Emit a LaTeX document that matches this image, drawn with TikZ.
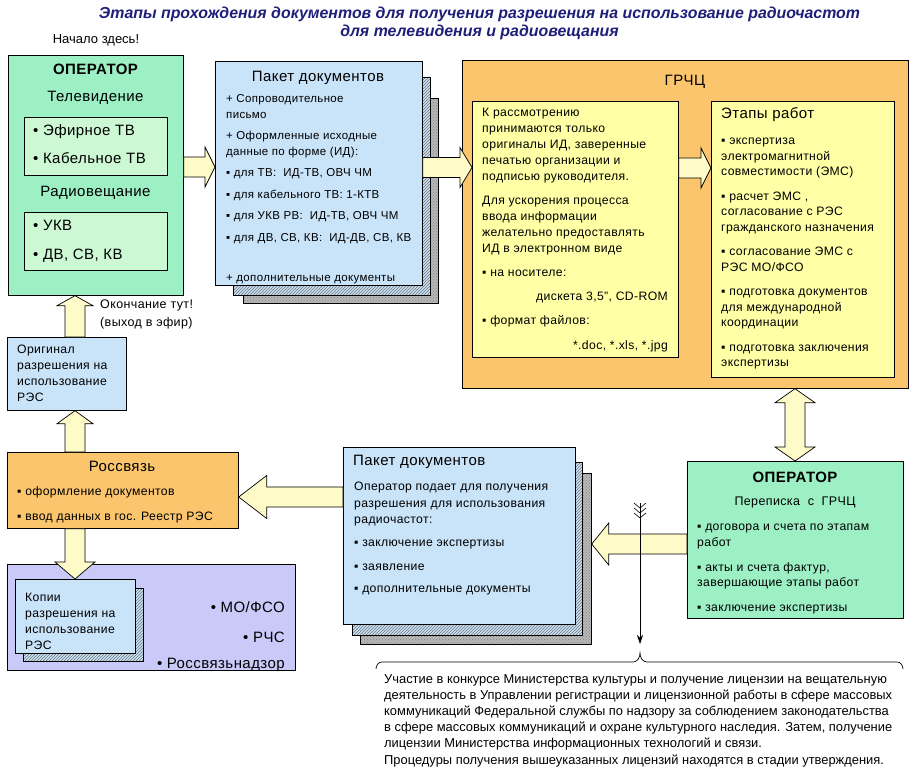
\documentclass[tikz,border=0pt]{standalone}
\usepackage{fontspec}
\setmainfont[LetterSpace=3]{Liberation Sans}
\newfontfamily\plainf{Liberation Sans}
\usetikzlibrary{calc,patterns,arrows.meta}
\definecolor{opgreen}{HTML}{9CF0C4}
\definecolor{ingreen}{HTML}{CCF8D4}
\definecolor{pblue}{HTML}{C9E3F9}
\definecolor{orangeC}{HTML}{FBC56E}
\definecolor{yellowC}{HTML}{FFFFA6}
\definecolor{arrowC}{HTML}{FFFBC8}
\definecolor{purpleC}{HTML}{CACAF9}
\definecolor{titleC}{HTML}{1F1F7A}
\newcommand\tstrut{\rule{0pt}{0.85em}}
\newcommand\fsz[2]{\fontsize{#1}{#2}\selectfont}
% horizontal block arrow: from, to, signed head length, head half width
\newcommand\harrow[4]{%
  \path[barrow] let \p1=(#1), \p2=(#2) in
   (\x1,{\y1+10pt}) -- ({\x2-(#3pt)},{\y1+10pt}) -- ({\x2-(#3pt)},{\y1+#4pt}) -- (\x2,\y1)
   -- ({\x2-(#3pt)},{\y1-#4pt}) -- ({\x2-(#3pt)},{\y1-10pt}) -- (\x1,{\y1-10pt}) -- cycle;}
% vertical block arrow: from, to, signed head length (positive = pointing down), head half width
\newcommand\varrow[4]{%
  \path[barrow] let \p1=(#1), \p2=(#2) in
   ({\x1-10pt},\y1) -- ({\x1-10pt},{\y2+(#3pt)}) -- ({\x1-#4pt},{\y2+(#3pt)}) -- (\x1,\y2)
   -- ({\x1+#4pt},{\y2+(#3pt)}) -- ({\x1+10pt},{\y2+(#3pt)}) -- ({\x1+10pt},\y1) -- cycle;}
% vertical double block arrow: top, bottom, head length, head half width
\newcommand\vdarrow[4]{%
  \path[barrow] let \p1=(#1), \p2=(#2) in
   (\x1,\y1) -- ({\x1+#4pt},{\y1-#3pt}) -- ({\x1+10pt},{\y1-#3pt}) -- ({\x1+10pt},{\y2+#3pt})
   -- ({\x1+#4pt},{\y2+#3pt}) -- (\x1,\y2) -- ({\x1-#4pt},{\y2+#3pt}) -- ({\x1-10pt},{\y2+#3pt})
   -- ({\x1-10pt},{\y1-#3pt}) -- ({\x1-#4pt},{\y1-#3pt}) -- cycle;}
\begin{document}
\begin{tikzpicture}[x=1pt,y=-1pt,
  box/.style={draw=black, line width=0.7pt, inner sep=0pt, anchor=north west},
  pagehatch/.style={box, preaction={fill=pblue}, pattern=north east lines, pattern color=black!55},
  pagegray/.style={box, preaction={fill=black!28}, pattern=crosshatch dots, pattern color=black!50},
  txt/.style={inner sep=0pt, anchor=north west, align=left},
  ctxt/.style={inner sep=0pt, anchor=center},
  barrow/.style={draw=black, line width=0.7pt, fill=arrowC}]
\fill[white] (0,0) rectangle (916,773);
\useasboundingbox (0,0) rectangle (916,773);

% title
\node[ctxt, font=\plainf\fsz{15.9}{18}\bfseries\itshape, text=titleC] (t1) at (479.5,14)
  {Этапы прохождения документов для получения разрешения на использование радиочастот};
\node[ctxt, font=\plainf\fsz{15.9}{18}\bfseries\itshape, text=titleC] (t2) at (479.5,32)
  {для телевидения и радиовещания};
\node[ctxt, font=\plainf\fsz{13}{14}] (start) at (96,40) {Начало здесь!};

% operator (top left)
\node[box, fill=opgreen, minimum width=175, minimum height=240] (op) at (8,55) {};
\node[ctxt, font=\fsz{15}{18}\bfseries] (opt) at (95.5,69) {ОПЕРАТОР};
\node[ctxt, font=\fsz{15}{18}] (tvt) at (95.5,98) {Телевидение};
\node[box, fill=ingreen, minimum width=143, minimum height=58] (tvb) at (24,117) {};
\node[txt, font=\fsz{15}{28}] (tvl) at (33,122.8) {\tstrut• Эфирное ТВ\\• Кабельное ТВ};
\node[ctxt, font=\fsz{15}{18}] (rvt) at (95.5,193) {Радиовещание};
\node[box, fill=ingreen, minimum width=143, minimum height=58] (rvb) at (24,212) {};
\node[txt, font=\fsz{15}{29}] (rvl) at (33,217.8) {\tstrut• УКВ\\• ДВ, СВ, КВ};

% packet 1
\node[pagegray, minimum width=195, minimum height=205] (pk1c) at (243,98) {};
\node[pagehatch, minimum width=197, minimum height=218] (pk1b) at (233,77) {};
\node[box, fill=pblue, minimum width=207, minimum height=224] (pk1) at (215,61) {};
\node[ctxt, font=\fsz{15}{18}] (pk1t) at (318,78) {Пакет документов};
\node[txt, font=\fsz{11.5}{16}] (pk1l) at (226,92.7) {\tstrut+ Сопроводительное\\письмо\\[5pt]%
+ Оформленные исходные\\данные по форме (ИД):\\[5pt]%
▪ для ТВ:\ \ ИД-ТВ, ОВЧ ЧМ\\[6pt]▪ для кабельного ТВ: 1-КТВ\\[5pt]%
▪ для УКВ РВ:\ \ ИД-ТВ, ОВЧ ЧМ\\[6pt]▪ для ДВ, СВ, КВ:\ \ ИД-ДВ, СВ, КВ\\[24pt]%
+ дополнительные документы};

% GRChC
\node[box, fill=orangeC, minimum width=446, minimum height=328] (grc) at (462,60) {};
\node[ctxt, font=\fsz{15}{18}] (grct) at (685,82) {ГРЧЦ};
\node[box, fill=yellowC, minimum width=206, minimum height=256] (grL) at (472,101) {};
\node[txt, font=\fsz{12.2}{16}] (grLl) at (482,106.4) {\tstrut К рассмотрению\\принимаются только\\%
оригиналы ИД, заверенные\\печатью организации и\\подписью руководителя.\\[8pt]%
Для ускорения процесса\\ввода информации\\желательно предоставлять\\ИД в электронном виде\\[8pt]%
▪ на носителе:\\[32pt]▪ формат файлов:};
\node[inner sep=0pt, anchor=east, font=\fsz{12.2}{16}] (disk) at (668,297) {дискета 3,5", CD-ROM};
\node[inner sep=0pt, anchor=east, font=\fsz{12.2}{16}] (fmt) at (668,346) {*.doc, *.xls, *.jpg};
\node[box, fill=yellowC, minimum width=183, minimum height=276] (grR) at (711,101) {};
\node[inner sep=0pt, anchor=west, font=\fsz{15}{18}] (grRt) at (721,115) {Этапы работ};
\node[txt, font=\fsz{12.2}{15.5}] (grRl) at (721,134.4) {\tstrut▪ экспертиза\\электромагнитной\\%
совместимости (ЭМС)\\[9pt]▪ расчет ЭМС ,\\согласование с РЭС\\гражданского назначения\\[9pt]%
▪ согласование ЭМС с\\РЭС МО/ФСО\\[9pt]▪ подготовка документов\\для международной\\координации\\[9pt]%
▪ подготовка заключения\\экспертизы};

% operator (bottom right)
\node[box, fill=opgreen, minimum width=216, minimum height=157] (op2) at (687,461) {};
\node[ctxt, font=\fsz{15}{18}\bfseries] (op2t) at (795,477) {ОПЕРАТОР};
\node[ctxt, font=\fsz{12.5}{16}] (op2s) at (795,502) {Переписка\ \ с\ \ ГРЧЦ};
\node[txt, font=\fsz{12.2}{15.5}] (op2l) at (697,520.4) {\tstrut▪ договора и счета по этапам\\работ\\[9.5pt]%
▪ акты и счета фактур,\\завершающие этапы работ\\[9.5pt]▪ заключение экспертизы};

% packet 2
\node[pagegray, minimum width=231, minimum height=171] (pk2c) at (360,473) {};
\node[pagehatch, minimum width=230, minimum height=173] (pk2b) at (352,462) {};
\node[box, fill=pblue, minimum width=232, minimum height=177] (pk2) at (343,447) {};
\node[inner sep=0pt, anchor=west, font=\fsz{15}{18}] (pk2t) at (353,462) {Пакет документов};
\node[txt, font=\fsz{12.2}{16.5}] (pk2l) at (354,480.4) {\tstrut Оператор подает для получения\\%
разрешения для использования\\радиочастот:\\[6.5pt]▪ заключение экспертизы\\[7.5pt]%
▪ заявление\\[5.5pt]▪ дополнительные документы};

% left column
\node[txt, font=\fsz{12.5}{17.5}] (endt) at (100,298.1) {\tstrut Окончание тут!\\(выход в эфир)};
\node[box, fill=pblue, minimum width=119, minimum height=73] (orig) at (7,337) {};
\node[txt, font=\fsz{12.2}{16}] (origl) at (17,343.4) {\tstrut Оригинал\\разрешения на\\использование\\РЭС};
\node[box, fill=orangeC, minimum width=231, minimum height=76] (ros) at (7,452) {};
\node[ctxt, font=\fsz{15}{18}] (rost) at (122,466) {Россвязь};
\node[txt, font=\fsz{12.2}{25}] (rosl) at (17,485.3) {\tstrut▪ оформление документов\\▪ ввод данных в гос. Реестр РЭС};
\node[box, fill=purpleC, minimum width=288, minimum height=106] (bot) at (7,564) {};
\node[pagehatch, minimum width=120, minimum height=73] (copb) at (23,588) {};
\node[box, fill=pblue, minimum width=120, minimum height=74] (cop) at (15,579) {};
\node[txt, font=\fsz{12.2}{15.8}] (copl) at (25,591.4) {\tstrut Копии\\разрешения на\\использование\\РЭС};
\node[inner sep=0pt, anchor=east, font=\fsz{15}{18}] (mo) at (285,607) {• МО/ФСО};
\node[inner sep=0pt, anchor=east, font=\fsz{15}{18}] (rchs) at (285,637) {• РЧС};
\node[inner sep=0pt, anchor=east, font=\fsz{15}{18}] (rnadz) at (285,665) {• Россвязьнадзор};

% block arrows
\harrow{op.east |- 0,167}{pk1.west |- 0,167}{10}{20}
\harrow{pk1.east |- 0,167.5}{grL.west |- 0,167.5}{12}{20}
\harrow{grL.east |- 0,168}{grR.west |- 0,168}{10}{20}
\vdarrow{grc.south -| 795,0}{op2.north -| 795,0}{14}{20}
\harrow{op2.west |- 0,544}{pk2c.east |- 0,544}{-17}{21}
\harrow{pk2.west |- 0,497}{ros.east |- 0,497}{-28}{21.5}
\varrow{ros.north -| 75,0}{orig.south -| 75,0}{-13}{18}
\varrow{orig.north -| 75,0}{op.south -| 75,0}{-10}{18}
\varrow{ros.south -| 75,0}{cop.north -| 75,0}{17}{20}

% thin arrow with fletching and brace
\coordinate (ftop) at (640,503);
\coordinate (fbot) at (640,644);
\draw[line width=0.7pt, -{Stealth[length=9pt,width=6pt]}] (ftop) -- (fbot);
\draw[line width=0.6pt] (634,503) -- (640,508) -- (646,503)
  (634,508) -- (640,513) -- (646,508) (634,513) -- (640,518) -- (646,513);
\coordinate (brL) at (376,669);
\coordinate (brP) at (640,653);
\coordinate (brR) at (903,669);
\draw[line width=0.7pt] (brL) to[out=90,in=180] ($(brL)+(6,-7)$) -- ($(brP)+(-7,9)$)
  to[out=0,in=-90] (brP) to[out=-90,in=180] ($(brP)+(7,9)$) -- ($(brR)+(-6,-7)$) to[out=0,in=90] (brR);

% bottom text
\node[txt, font=\plainf\fsz{12.9}{16.2}] (note) at (384,672) {\tstrut Участие в конкурсе Министерства культуры и получение лицензии на вещательную\\%
деятельность в Управлении регистрации и лицензионной работы в сфере массовых\\%
коммуникаций Федеральной службы по надзору за соблюдением законодательства\\%
в сфере массовых коммуникаций и охране культурного наследия. Затем, получение\\%
лицензии Министерства информационных технологий и связи.\\%
Процедуры получения вышеуказанных лицензий находятся в стадии утверждения.};
\end{tikzpicture}
\end{document}
